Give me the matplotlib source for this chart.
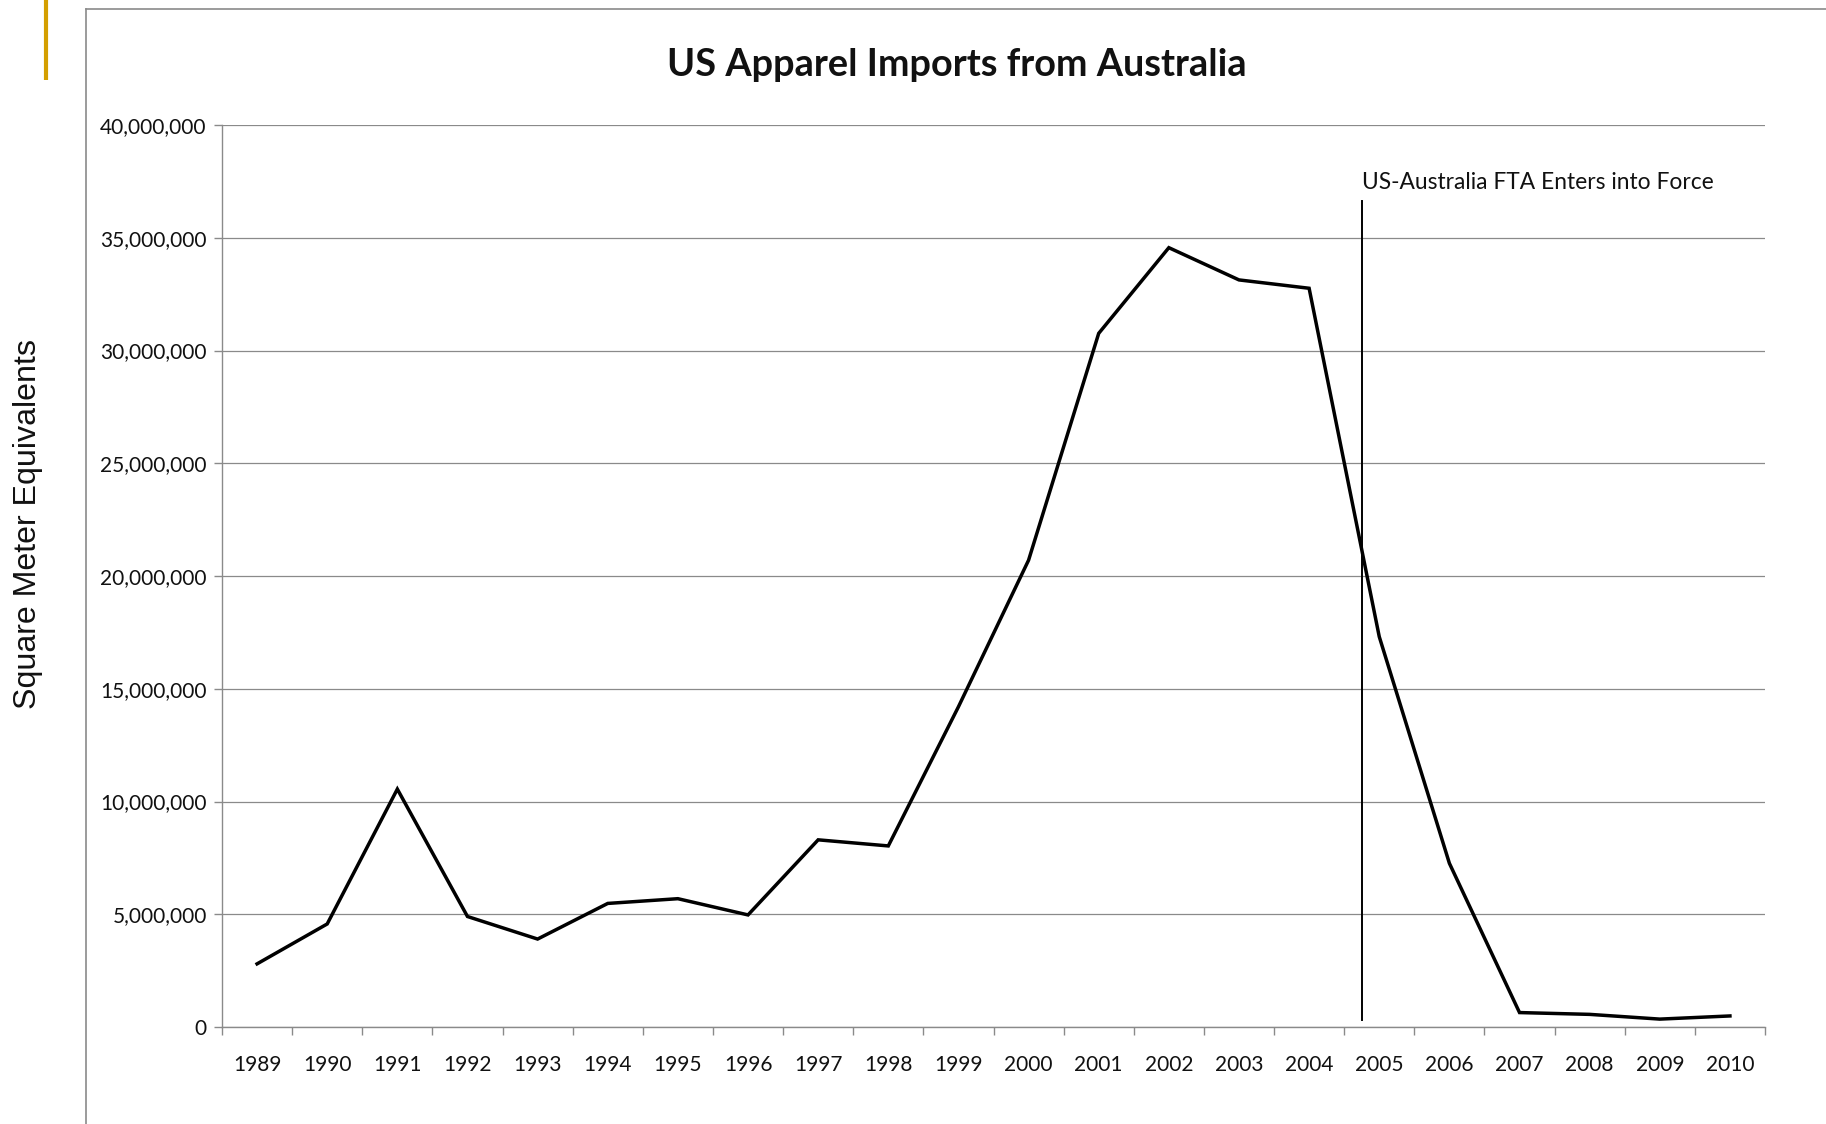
import matplotlib
matplotlib.use("Agg")
import matplotlib.pyplot as plt
from matplotlib.lines import Line2D
from matplotlib.ticker import FuncFormatter, FixedLocator

years = [str(y) for y in range(1989, 2011)]
imports = [2.80e6, 4.57e6, 10.55e6, 4.90e6, 3.90e6, 5.48e6, 5.69e6, 4.97e6,
           8.30e6, 8.03e6, 14.2e6, 20.7e6, 30.76e6, 34.56e6, 33.13e6, 32.76e6,
           17.31e6, 7.26e6, 0.64e6, 0.56e6, 0.35e6, 0.49e6]
yticks = [0, 5e6, 10e6, 15e6, 20e6, 25e6, 30e6, 35e6, 40e6]
title = "US Apparel Imports from Australia"
ylabel = "Square Meter Equivalents"
fta_text = "US-Australia FTA Enters into Force"
fta_pos = 15.75  # between 2004 and 2005 categories

W, H = 1826, 1124
fig = plt.figure(figsize=(W / 100, H / 100), dpi=100)
fig.patch.set_facecolor("white")

ax = fig.add_axes([222 / W, 1 - 1027 / H, (1765 - 222) / W, (1027 - 125) / H])
x = list(range(len(years)))
ax.plot(x, imports, color="black", lw=2.5, solid_joinstyle="miter", zorder=3)

ax.set_xlim(-0.5, len(years) - 0.5)
ax.set_ylim(0, 40e6)
ax.set_yticks(yticks)
ax.yaxis.set_major_formatter(FuncFormatter(lambda v, p: f"{int(v):,}"))
ax.set_xticks(x)
ax.set_xticklabels(years)
ax.xaxis.set_minor_locator(FixedLocator([i - 0.5 for i in range(len(years) + 1)]))

for lab in ax.get_xticklabels() + ax.get_yticklabels():
    lab.set_fontfamily("Lato")
    lab.set_fontsize(15)
    lab.set_color("#111111")

gray = "#8a8a8a"
ax.tick_params(axis="x", which="major", length=0, pad=20)
ax.tick_params(axis="x", which="minor", length=6, width=1, color=gray, direction="out")
ax.tick_params(axis="y", which="major", length=6, width=1, color=gray, direction="out", pad=5)

ax.grid(axis="y", color=gray, lw=0.9, zorder=0)
for s in ["top", "right"]:
    ax.spines[s].set_visible(False)
for s in ["left", "bottom"]:
    ax.spines[s].set_color(gray)
    ax.spines[s].set_linewidth(1)

# FTA vertical line and label
ax.axvline(fta_pos, ymin=0.008, ymax=0.916, color="black", lw=1.4, zorder=4)
ax.text(fta_pos, 37.43e6, fta_text, fontfamily="Lato", fontsize=16.4,
        ha="left", va="center", color="#111111")

fig.text(957 / W, 1 - 65 / H, title, fontfamily="Lato", fontweight="bold",
         fontsize=27.3, ha="center", va="center", color="#111111")
fig.text(28 / W, 1 - 524 / H, ylabel, fontfamily="Liberation Sans", fontsize=23.1,
         rotation=90, ha="center", va="center", color="#111111")

# outer frame and gold accent
fig.add_artist(Line2D([86 / W, 86 / W], [0, 1 - 9 / H], color=gray, lw=1.2,
                      transform=fig.transFigure))
fig.add_artist(Line2D([86 / W, 1], [1 - 9 / H, 1 - 9 / H], color=gray, lw=1.2,
                      transform=fig.transFigure))
fig.add_artist(Line2D([46 / W, 46 / W], [1, 1 - 80 / H], color="#D49F00", lw=3,
                      transform=fig.transFigure, solid_capstyle="butt"))

fig.savefig("out.png", dpi=100)
